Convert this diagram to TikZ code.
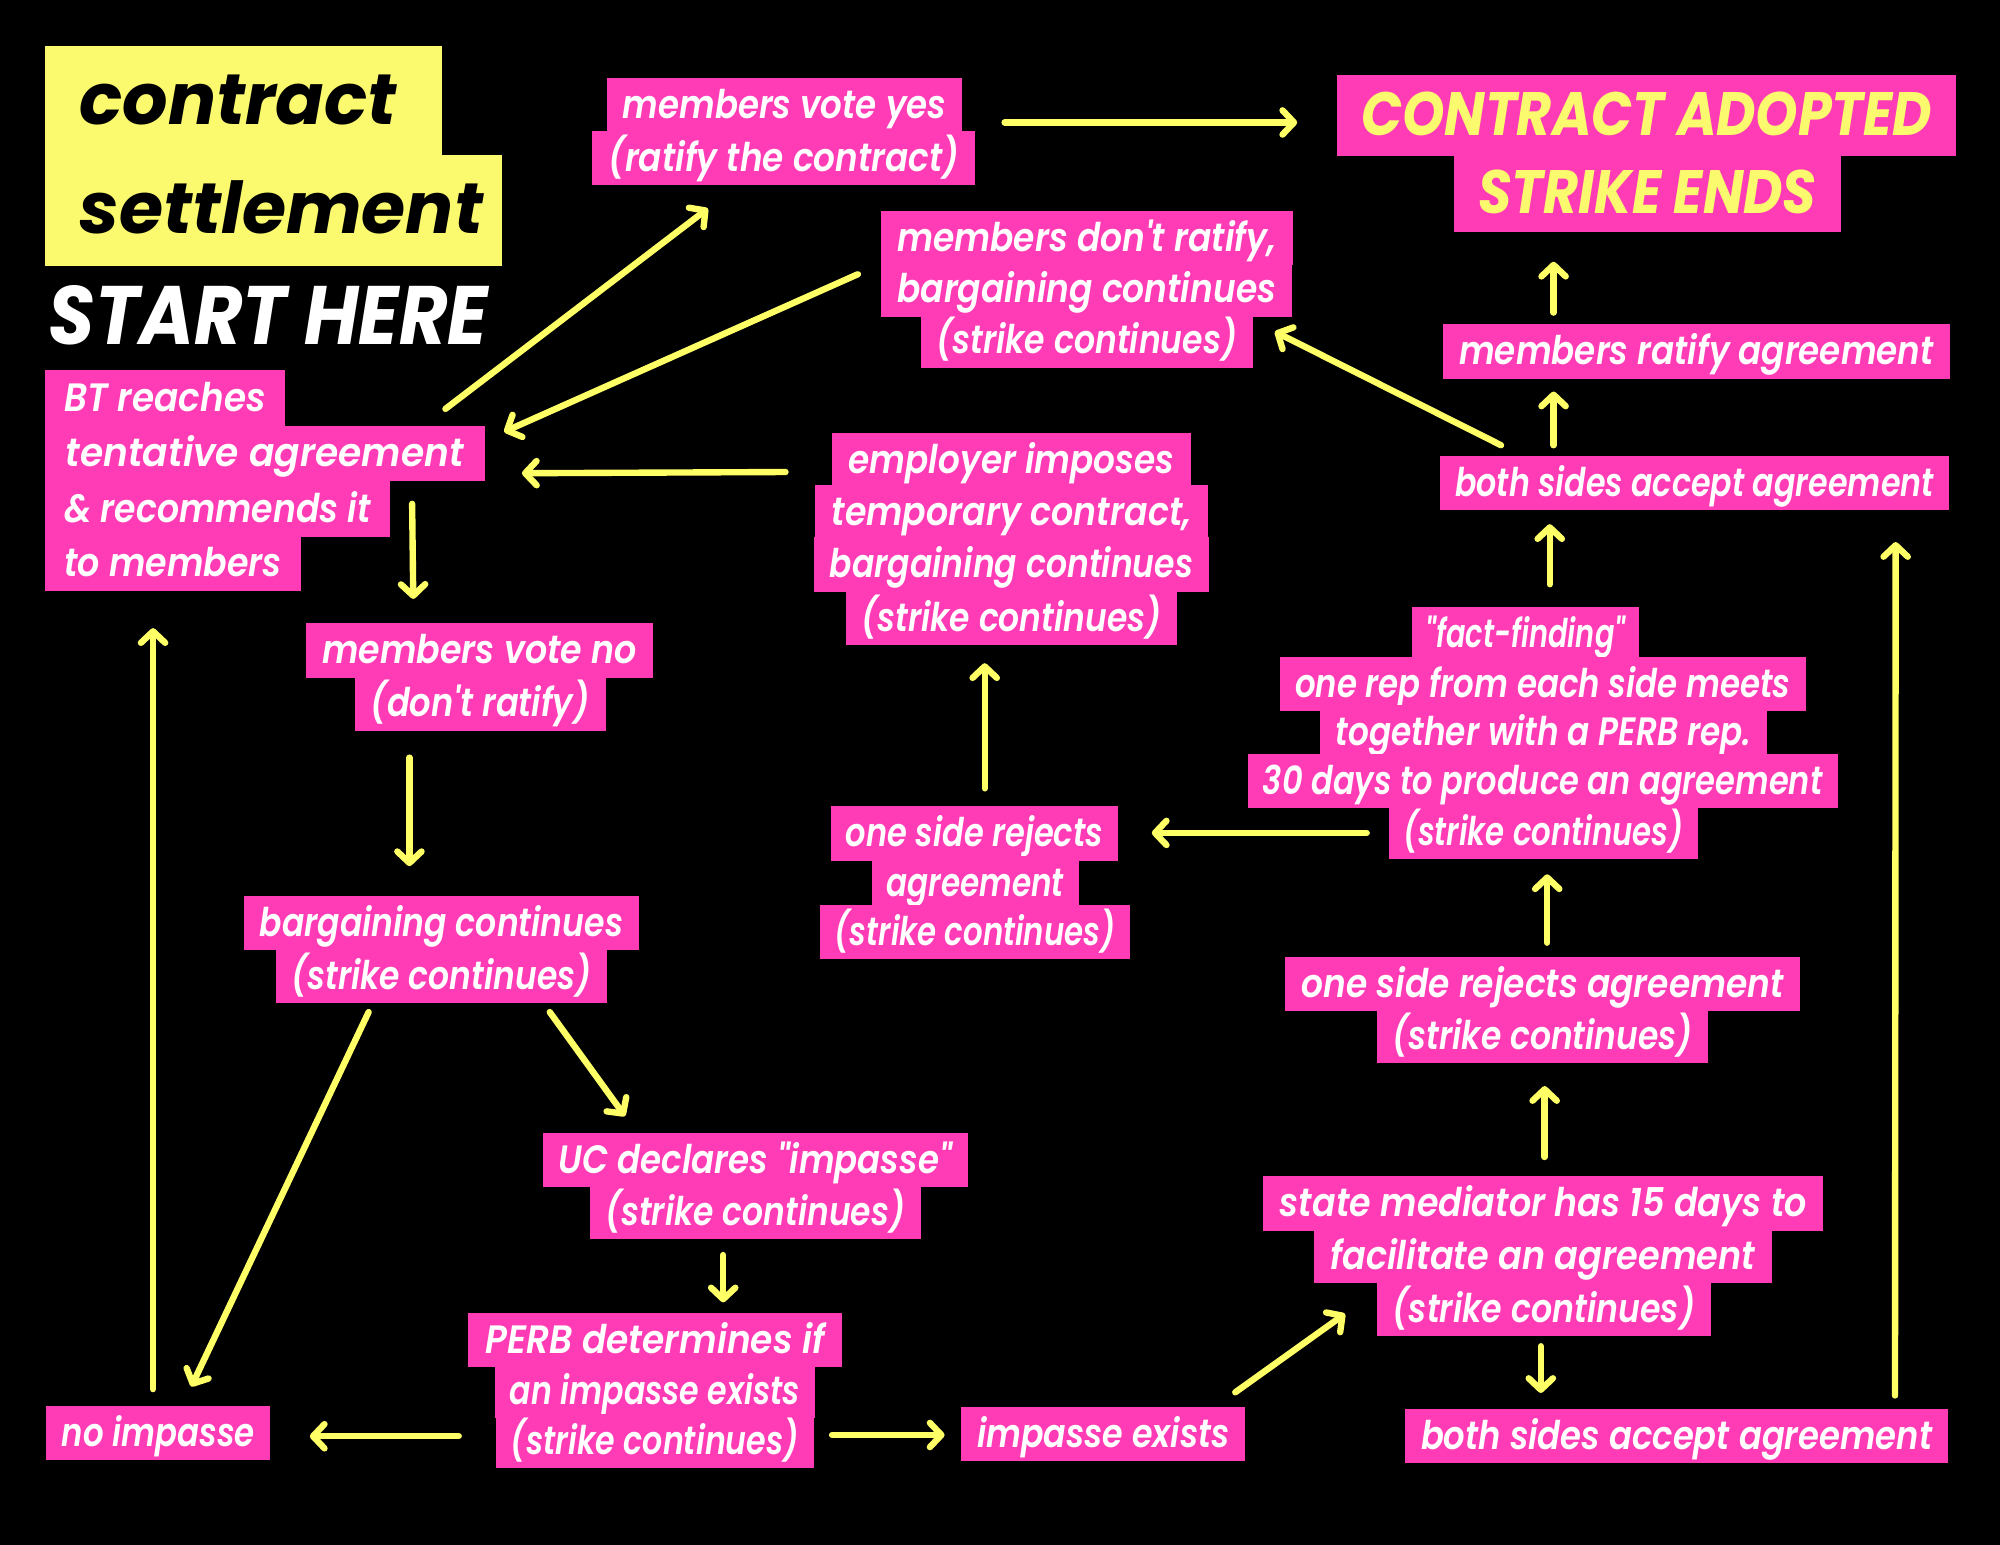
\documentclass[tikz,border=0pt]{standalone}
\usepackage{fontspec}
\newfontfamily\pop{Poppins SemiBold Italic}[FakeStretch=0.82]
\newfontfamily\popca{Poppins}[FakeStretch=0.88]
\newfontfamily\popst{Poppins}[FakeStretch=0.90]
\newfontfamily\popw{Poppins}
\usetikzlibrary{arrows.meta}
\definecolor{hpink}{HTML}{FF3BB5}
\definecolor{ylw}{HTML}{FBF96E}
\definecolor{arrowy}{HTML}{FFFF66}
\tikzset{
  lbox/.style={fill=hpink, text=white, font=\pop\fontsize{31}{36}\selectfont,
    inner xsep=12pt, inner ysep=0pt, minimum height=42.5pt, text height=25pt, text depth=4pt},
  sx/.style={xscale=#1},
  cabox/.style={fill=hpink, text=ylw, font=\popca\bfseries\itshape\fontsize{48}{52}\selectfont,
    inner xsep=19pt, inner ysep=0pt, text height=36pt, text depth=5pt},
  tbox/.style={fill=ylw, text=black, font=\popw\bfseries\itshape\fontsize{56}{60}\selectfont,
    inner sep=0pt, anchor=north west, align=left, text height=45pt, text depth=8pt},
  arr/.style={draw=arrowy, line width=5pt, line cap=round,
    -{Straight Barb[length=9pt,width=19pt,round]}},
}
\begin{document}
\begin{tikzpicture}[x=1pt,y=-1pt]
\fill[black] (0,0) rectangle (1568,1211);
\useasboundingbox (0,0) rectangle (1568,1211);

% title
\node[tbox, minimum height=86pt, text width=311pt] (t1) at (35,36) {\hspace*{27pt}contract};
\node[tbox, minimum height=87pt, text width=358pt] (t2) at (35,121) {\hspace*{27pt}settlement};
\node[anchor=base west, inner sep=0pt, text=white, font=\popst\bfseries\itshape\fontsize{65}{70}\selectfont] (start) at (38,270) {START HERE};

% BT box
\node[lbox, anchor=west, minimum height=43.5pt, inner xsep=14pt, sx=1.105] (bt1) at (35,312) {BT reaches};
\node[lbox, anchor=west, minimum height=43.5pt, inner xsep=14pt, sx=1.16] (bt2) at (35,355.5) {tentative agreement};
\node[lbox, anchor=west, minimum height=43.5pt, inner xsep=14pt, sx=1.07] (bt3) at (35,399) {\& recommends it};
\node[lbox, anchor=west, minimum height=43.5pt, inner xsep=14pt, sx=1.075] (bt4) at (35,441.5) {to members};

% members vote yes
\node[lbox, sx=1.05] (vy1) at (615,82.5) {members vote yes};
\node[lbox, sx=1.057] (vy2) at (614.5,124) {(ratify the contract)};

% contract adopted
\node[cabox, minimum height=63.5pt] (ca1) at (1291,90.5) {CONTRACT ADOPTED};
\node[cabox, minimum height=60pt] (ca2) at (1291.5,152) {STRIKE ENDS};

% members don't ratify
\node[lbox, sx=1.063] (dr1) at (852,186.5) {members don't ratify,};
\node[lbox, sx=1.063] (dr2) at (852,227) {bargaining continues};
\node[lbox, sx=1.02] (dr3) at (852,267) {(strike continues)};

% members ratify agreement
\node[lbox, sx=1.053] (mr) at (1330,275.5) {members ratify agreement};
% both sides accept (top)
\node[lbox, sx=0.978] (ba) at (1328.5,378.5) {both sides accept agreement};

% employer imposes
\node[lbox, sx=1.057] (ei1) at (793,360.5) {employer imposes};
\node[lbox, sx=1.073] (ei2) at (793,401.5) {temporary contract,};
\node[lbox, sx=1.02] (ei3) at (793,442.5) {bargaining continues};
\node[lbox, sx=1.016] (ei4) at (793,484.5) {(strike continues)};

% members vote no
\node[lbox, sx=1.075] (vn1) at (376,510) {members vote no};
\node[lbox, sx=1.04] (vn2) at (376.5,551.5) {(don't ratify)};

% fact-finding
\node[lbox, sx=0.89] (ff1) at (1196,497.5) {"fact-finding"};
\node[lbox] (ff2) at (1209.5,536) {one rep from each side meets};
\node[lbox, sx=1.01] (ff3) at (1210,574) {together with a PERB rep.};
\node[lbox, sx=0.99] (ff4) at (1209.5,612.5) {30 days to produce an agreement};
\node[lbox, sx=0.95] (ff5) at (1210,652) {(strike continues)};

% one side rejects (middle)
\node[lbox, sx=0.99] (or1) at (764,653.5) {one side rejects};
\node[lbox, sx=0.96] (or2) at (764.5,692) {agreement};
\node[lbox, sx=0.95] (or3) at (764.5,730.5) {(strike continues)};

% bargaining continues
\node[lbox, sx=1.02] (bc1) at (346,723.5) {bargaining continues};
\node[lbox, sx=1.016] (bc2) at (346,765) {(strike continues)};

% one side rejects agreement (right)
\node[lbox, sx=1.063] (rr1) at (1209.5,771.5) {one side rejects agreement};
\node[lbox, sx=1.016] (rr2) at (1209.5,812) {(strike continues)};

% UC declares impasse
\node[lbox, sx=1.05] (uc1) at (592,909.5) {UC declares "impasse"};
\node[lbox, sx=1.016] (uc2) at (592,950.5) {(strike continues)};

% state mediator
\node[lbox, sx=1.076] (sm1) at (1210,943.5) {state mediator has 15 days to};
\node[lbox, sx=1.083] (sm2) at (1209.5,984.5) {facilitate an agreement};
\node[lbox, sx=1.024] (sm3) at (1210.5,1026) {(strike continues)};

% PERB determines
\node[lbox, sx=1.11] (pe1) at (513.5,1050.5) {PERB determines if};
\node[lbox, sx=0.976] (pe2) at (513.5,1090.5) {an impasse exists};
\node[lbox, sx=0.976] (pe3) at (513.5,1129.5) {(strike continues)};

% bottom row
\node[lbox] (ni) at (124,1123.5) {no impasse};
\node[lbox, sx=1.028] (ie) at (865,1124) {impasse exists};
\node[lbox, sx=1.044] (bb) at (1314.5,1125.5) {both sides accept agreement};

% connectors
\draw[arr] ([shift={(-31,-13)}]bt2.north east) -- ([shift={(-59.5,18)}]vy2.south);
\draw[arr] ([shift={(-18,-12)}]dr2.west) -- ([shift={(15,5)}]bt2.north east);
\draw[arr] ([shift={(-23,-10)}]ei2.north west) -- ([shift={(29,15.5)}]bt2.east);
\draw[arr] ([shift={(17,-4)}]bt3.east) -- ([shift={(-52,-19)}]vn1.north);
\draw[arr] ([shift={(33,13.5)}]vy1.east) -- ([shift={(-31,5.5)}]ca1.west);
\draw[arr] ([shift={(-112,-9)}]mr.north) -- ([shift={(-73.5,23)}]ca2.south);
\draw[arr] ([shift={(-110.5,-8)}]ba.north) -- ([shift={(-112,10)}]mr.south);
\draw[arr] ([shift={(48,-8)}]ba.north west) -- ([shift={(17,-7)}]dr3.east);
\draw[arr] ([shift={(19,-18)}]ff1.north) -- ([shift={(-113.5,11)}]ba.south);
\draw[arr] ([shift={(-17,1)}]ff5.west) -- ([shift={(26,-0.5)}]or1.east);
\draw[arr] ([shift={(8,-14)}]or1.north) -- ([shift={(-21,14)}]ei4.south);
\draw[arr] ([shift={(3.5,-11)}]rr1.north) -- ([shift={(3,12)}]ff5.south);
\draw[arr] ([shift={(1,-15)}]sm1.north) -- ([shift={(1.5,18)}]rr2.south);
\draw[arr] ([shift={(-2.5,8)}]sm3.south) -- ([shift={(-106.5,-12)}]bb.north);
\draw[arr] ([shift={(-42,-10)}]bb.north east) -- ([shift={(-42,25)}]ba.south east);
\draw[arr] ([shift={(-8,-11)}]ie.north east) -- ([shift={(-25,4)}]sm3.west);
\draw[arr] ([shift={(14,-4.5)}]pe3.east) -- ([shift={(-13,1)}]ie.west);
\draw[arr] ([shift={(-29,-3.5)}]pe3.west) -- ([shift={(31,2.5)}]ni.east);
\draw[arr] ([shift={(-4,-13)}]ni.north) -- ([shift={(85,29)}]bt4.south west);
\draw[arr] ([shift={(-55.5,21)}]vn2.south) -- ([shift={(-25,-23)}]bc1.north);
\draw[arr] ([shift={(-57,7)}]bc2.south) -- ([shift={(26,-15)}]ni.north);
\draw[arr] ([shift={(85,7)}]bc2.south) -- ([shift={(-102,-13)}]uc1.north);
\draw[arr] ([shift={(-25,12)}]uc2.south) -- ([shift={(53.5,-8)}]pe1.north);
\end{tikzpicture}
\end{document}
